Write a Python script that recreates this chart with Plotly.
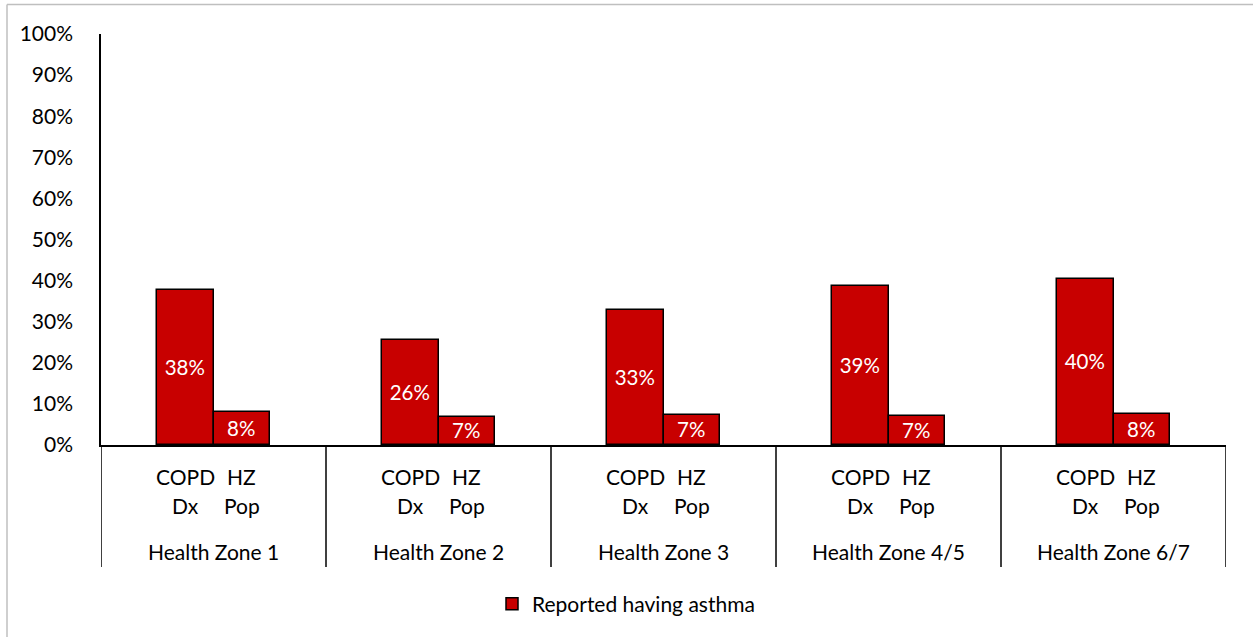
import plotly.graph_objects as go

zones = ["Health Zone 1", "Health Zone 2", "Health Zone 3", "Health Zone 4/5", "Health Zone 6/7"]
sub_top = ["COPD", "HZ"]
sub_bottom = ["Dx", "Pop"]
copd_dx = [37.8, 25.6, 32.8, 38.6, 40.3]
hz_pop = [8.1, 6.8, 7.2, 7.1, 7.6]
series_name = "Reported having asthma"

BAR_W = 0.25
FONT = "Lato"
FS = 21
RED = "#C80000"

xs, ys = [], []
for i in range(len(zones)):
    xs += [i - BAR_W / 2, i + BAR_W / 2]
    ys += [copd_dx[i], hz_pop[i]]

fig = go.Figure()
fig.add_trace(go.Bar(
    x=xs, y=ys, width=BAR_W, name=series_name,
    marker=dict(color=RED, line=dict(color="black", width=1.5)),
    texttemplate="%{y:.0f}%", textposition="inside", insidetextanchor="middle",
    textfont=dict(color="white", size=20.5, family=FONT),
    constraintext="none", showlegend=True,
))

# plot area in px: x 101..1226, y 34..445
def py(p):
    return (445 - p) / 411.0

def px(p):
    return (p - 101) / 1125.0

ann = []
shapes = []
for i, z in enumerate(zones):
    for k in range(2):
        xc = i + (k - 0.5) * BAR_W
        ann.append(dict(x=xc, xref="x", y=py(476), yref="paper", text=sub_top[k],
                        showarrow=False, font=dict(size=FS, family=FONT, color="black"),
                        xanchor="center", yanchor="middle"))
        ann.append(dict(x=xc, xref="x", y=py(506), yref="paper", text=sub_bottom[k],
                        showarrow=False, font=dict(size=FS, family=FONT, color="black"),
                        xanchor="center", yanchor="middle"))
    ann.append(dict(x=i, xref="x", y=py(551), yref="paper", text=z,
                    showarrow=False, font=dict(size=FS, family=FONT, color="black"),
                    xanchor="center", yanchor="middle"))

for b in range(len(zones) + 1):
    shapes.append(dict(type="line", xref="x", yref="paper", x0=b - 0.5, x1=b - 0.5,
                       y0=0, y1=py(567), line=dict(color="black", width=1.5)))

# outer chart border (top and left visible)
shapes.append(dict(type="line", xref="paper", yref="paper", x0=px(7), x1=px(1260),
                   y0=py(4.5), y1=py(4.5), line=dict(color="#BFBFBF", width=1.5)))
shapes.append(dict(type="line", xref="paper", yref="paper", x0=px(7), x1=px(7),
                   y0=py(4.5), y1=py(640), line=dict(color="#BFBFBF", width=1.5)))

fig.update_layout(
    width=1253, height=637,
    margin=dict(l=101, r=27, t=34, b=192),
    paper_bgcolor="white", plot_bgcolor="white",
    font=dict(family=FONT, size=FS, color="black"),
    bargap=0,
    xaxis=dict(range=[-0.5, len(zones) - 0.5], showticklabels=False, ticks="",
               showgrid=False, zeroline=False, showline=True, linecolor="black", linewidth=1.5),
    yaxis=dict(range=[0, 100], dtick=10, ticksuffix="%", showgrid=False, zeroline=False,
               showline=True, linecolor="black", linewidth=1.5, ticks="",
               ticklabelstandoff=22, tickfont=dict(size=FS, family=FONT, color="black")),
    legend=dict(orientation="h", x=px(492), xanchor="left", y=py(604), yanchor="middle",
                font=dict(size=FS, family=FONT, color="black"), itemwidth=30),
    annotations=ann, shapes=shapes,
)

fig.write_html("out.html", config={"displayModeBar": False})

with open("out.html", "r", encoding="utf-8") as f:
    html = f.read()
html = html.replace("<head>", "<head><style>html,body{margin:0;padding:0;overflow:hidden;}</style>", 1)
with open("out.html", "w", encoding="utf-8") as f:
    f.write(html)
